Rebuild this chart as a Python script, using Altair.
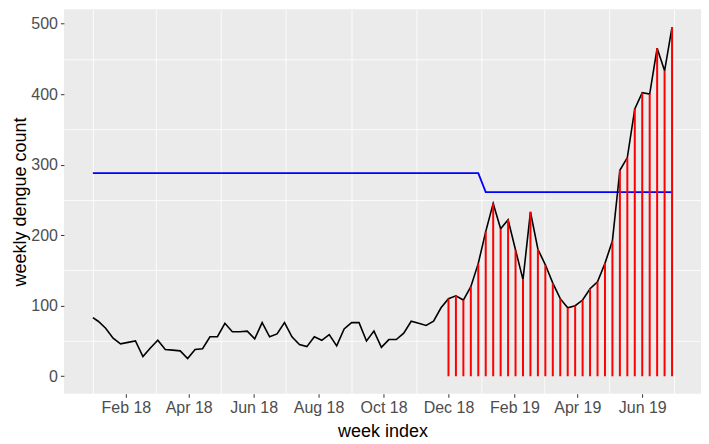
import altair as alt
import pandas as pd

# ---- data ----
first_date = "2018-01-01"          # first (partial) week
first_week = "2018-01-06"          # then one value per week
n_weeks = 78
counts = [83, 78, 68, 54, 46, 48, 50, 28, 40, 51,
          38, 37, 36, 25, 38, 39, 56, 56, 75, 63,
          63, 64, 53, 76, 56, 60, 76, 56, 45, 42,
          56, 51, 59, 43, 67, 76, 76, 50, 64, 41,
          52, 52, 61, 78, 75, 72, 78, 97, 110, 114,
          108, 127, 160, 205, 245, 209, 222, 179, 137, 233,
          180, 158, 132, 110, 97, 100, 108, 124, 134, 160,
          192, 292, 310, 379, 402, 400, 465, 433, 495]
thresholds = [288] * 53 + [261] * 26
alarm_start = "2018-12-01"

x_major = [(2018, 2), (2018, 4), (2018, 6), (2018, 8), (2018, 10), (2018, 12),
           (2019, 2), (2019, 4), (2019, 6)]
x_minor = [(2018, 1), (2018, 3), (2018, 5), (2018, 7), (2018, 9), (2018, 11),
           (2019, 1), (2019, 3), (2019, 5), (2019, 7)]
y_major = [0, 100, 200, 300, 400, 500]
y_minor = [50, 150, 250, 350, 450]

dates = [pd.Timestamp(first_date)] + list(pd.date_range(first_week, periods=n_weeks, freq="7D"))
df = pd.DataFrame({
    "date": [d.strftime("%Y-%m-%d") for d in dates],
    "count": counts,
    "threshold": thresholds,
})
alarms = df[df["date"] >= alarm_start].copy()

FONT = "Liberation Sans"


def dt(y, m, d=1, h=0, mi=0):
    return alt.DateTime(year=y, month=m, date=d, hours=h, minutes=mi, utc=True)


x_scale = alt.Scale(type="utc", domain=[dt(2017, 12, 4, 19, 12), dt(2019, 7, 26, 4, 48)])
y_scale = alt.Scale(domain=[-24.8, 520.1], nice=False, zero=False)

x_axis_major = alt.Axis(
    title="week index",
    values=[dt(y, m) for y, m in x_major],
    format="%b %y",
    gridWidth=1.6,
    labelOverlap=False,
    labelFlush=False,
    labelPadding=2,
    titlePadding=7,
)
y_axis_major = alt.Axis(
    title="weekly dengue count",
    values=y_major,
    gridWidth=1.6,
    labelOverlap=False,
    labelFlush=False,
    labelPadding=3,
    titlePadding=1,
)
x_axis_minor = alt.Axis(
    orient="top", title=None, values=[dt(y, m) for y, m in x_minor],
    labels=False, ticks=False, domain=False, grid=True, gridWidth=0.8,
)
y_axis_minor = alt.Axis(
    orient="right", title=None, values=y_minor,
    labels=False, ticks=False, domain=False, grid=True, gridWidth=0.8,
)

base = alt.Chart(df)

count_line = base.mark_line(color="black", strokeWidth=1.6).encode(
    x=alt.X("date:T", scale=x_scale, axis=x_axis_major),
    y=alt.Y("count:Q", scale=y_scale, axis=y_axis_major),
)
thresh_line = base.mark_line(color="blue", strokeWidth=1.8).encode(
    x=alt.X("date:T", axis=x_axis_minor),
    y=alt.Y("threshold:Q", axis=y_axis_minor),
)
alarm_rules = alt.Chart(alarms).mark_rule(color="red", strokeWidth=2).transform_calculate(
    base="0"
).encode(
    x=alt.X("date:T", axis=None),
    y=alt.Y("base:Q", axis=None),
    y2="count:Q",
)

chart = alt.layer(thresh_line, count_line, alarm_rules).resolve_axis(
    x="independent", y="independent"
).properties(
    width=638,
    height=385,
    autosize=alt.AutoSizeParams(type="none"),
    padding={"left": 56, "top": 1, "right": 0, "bottom": 50},
    background="white",
).configure_view(
    fill="#EBEBEB",
    stroke=None,
).configure_axis(
    domain=False,
    grid=True,
    gridColor="white",
    tickColor="#333333",
    tickSize=3.5,
    tickWidth=1,
    labelFont=FONT,
    labelFontSize=16,
    labelColor="#4D4D4D",
    titleFont=FONT,
    titleFontSize=18,
    titleFontWeight="normal",
    titleColor="black",
)

chart.save("out.html", embed_options={"renderer": "svg", "actions": False})
